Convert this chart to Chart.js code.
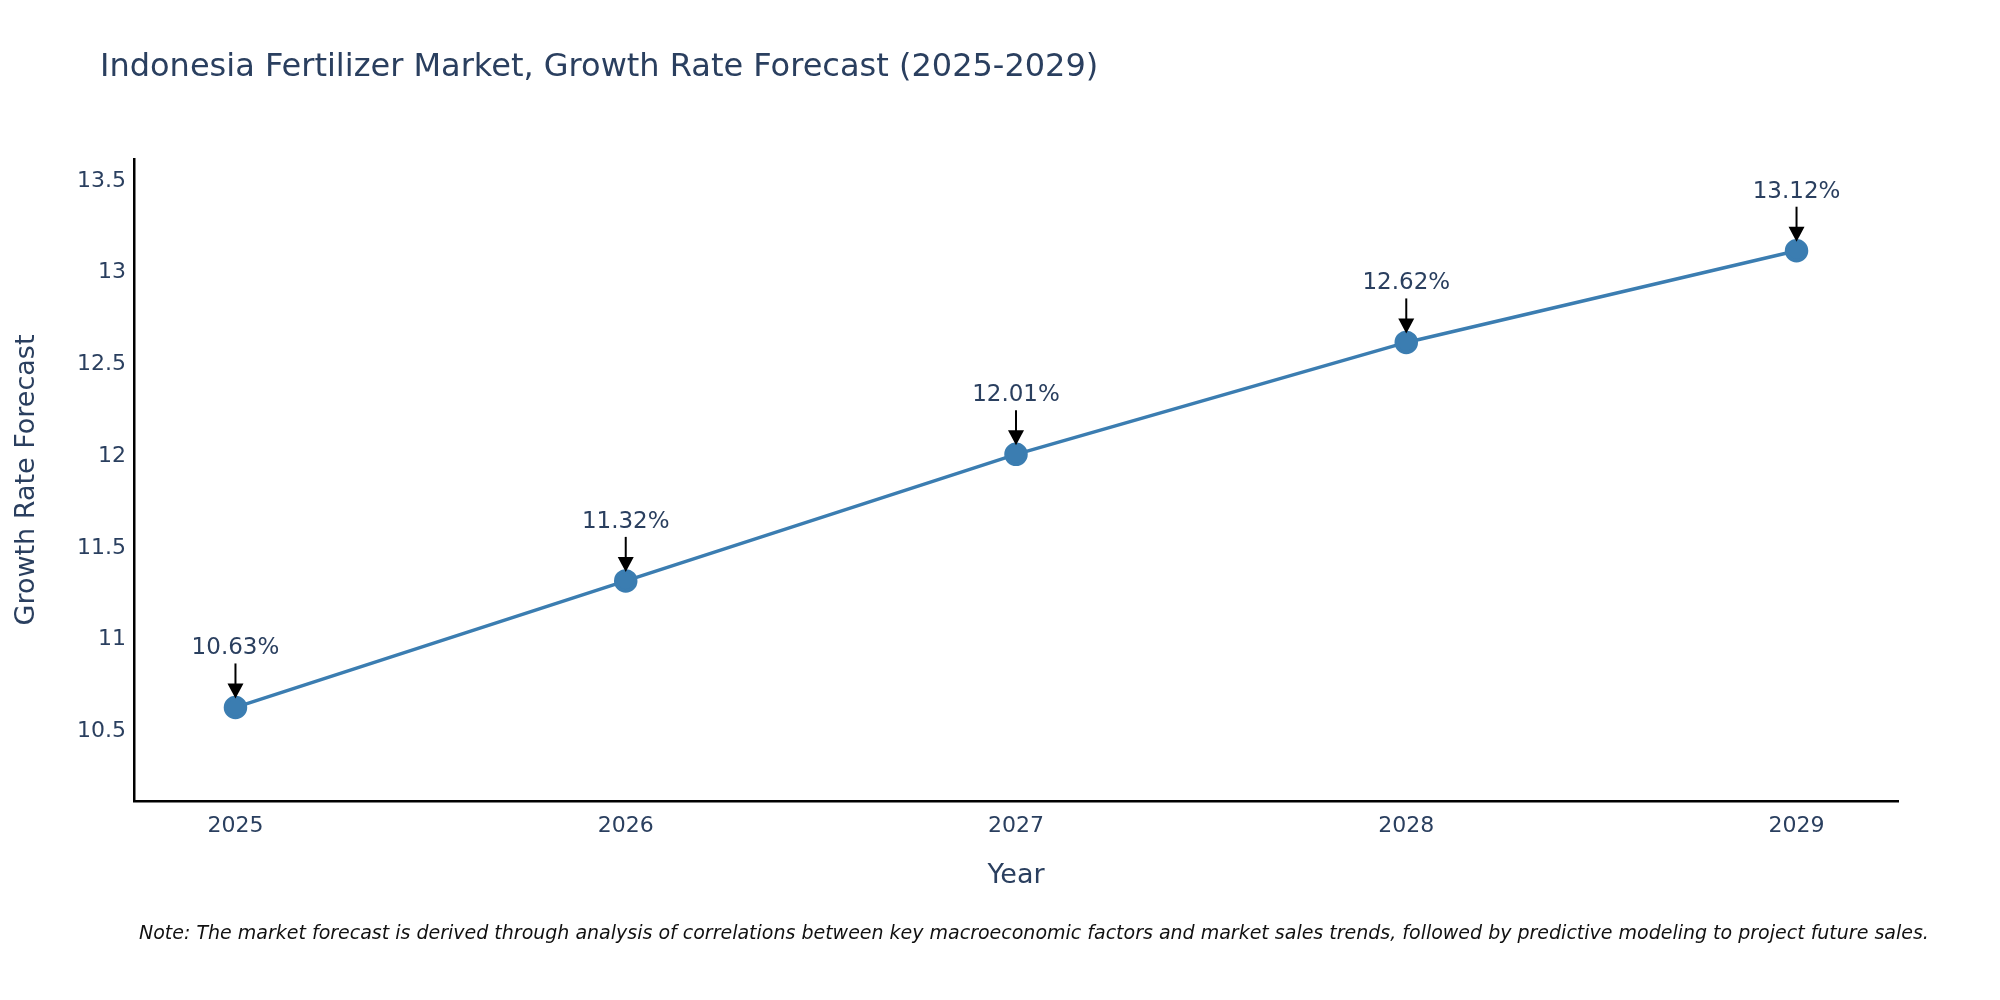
<!DOCTYPE html>
<html>
<head>
<script src="https://cdn.jsdelivr.net/npm/chart.js@4"></script>
<style>body{margin:0;background:#fff}canvas{display:block}</style>
</head>
<body>
<canvas id="c" width="2000" height="1000"></canvas>
<script>
const years = [2025, 2026, 2027, 2028, 2029]
const growth = [10.63, 11.32, 12.01, 12.62, 13.12]
const yTicks = [10.5, 11, 11.5, 12, 12.5, 13, 13.5]

const textColor = '#2a3f5f'
const font = '"DejaVu Sans", Verdana, sans-serif'

// labels, arrows, title, axis titles and note
const extras = {
	id: 'extras',
	afterDatasetsDraw(chart) {
		const ctx = chart.ctx
		const meta = chart.getDatasetMeta(0)
		ctx.save()
		meta.data.forEach((pt, i) => {
			const x = pt.x, y = pt.y
			ctx.strokeStyle = '#000'
			ctx.fillStyle = '#000'
			ctx.lineWidth = 2
			ctx.beginPath()
			ctx.moveTo(x, y - 44)
			ctx.lineTo(x, y - 22)
			ctx.stroke()
			ctx.beginPath()
			ctx.moveTo(x - 8, y - 24)
			ctx.lineTo(x + 8, y - 24)
			ctx.lineTo(x, y - 9)
			ctx.closePath()
			ctx.fill()
			ctx.fillStyle = textColor
			ctx.font = '23px ' + font
			ctx.textAlign = 'center'
			ctx.textBaseline = 'middle'
			ctx.fillText(growth[i].toFixed(2) + '%', x, y - 59)
		})
		ctx.fillStyle = textColor
		ctx.textAlign = 'left'
		ctx.textBaseline = 'middle'
		ctx.font = '32px ' + font
		ctx.fillText('Indonesia Fertilizer Market, Growth Rate Forecast (2025-2029)', 100, 68)
		ctx.font = '27px ' + font
		ctx.textAlign = 'center'
		ctx.fillText('Year', (chart.chartArea.left + chart.chartArea.right) / 2, 876)
		ctx.save()
		ctx.translate(27, (chart.chartArea.top + chart.chartArea.bottom) / 2)
		ctx.rotate(-Math.PI / 2)
		ctx.fillText('Growth Rate Forecast', 0, 0)
		ctx.restore()
		ctx.fillStyle = '#111'
		ctx.textAlign = 'left'
		ctx.font = 'italic 19px ' + font
		ctx.fillText('Note: The market forecast is derived through analysis of correlations between key macroeconomic factors and market sales trends, followed by predictive modeling to project future sales.', 139, 934)
		ctx.restore()
	}
}

new Chart(document.getElementById('c'), {
	type: 'line',
	data: {
		datasets: [{
			data: years.map((yr, i) => ({ x: yr, y: growth[i] })),
			borderColor: '#3b7db1',
			backgroundColor: '#3b7db1',
			borderWidth: 3.5,
			pointRadius: 10,
			pointHoverRadius: 10,
		}],
	},
	options: {
		responsive: false,
		animation: false,
		layout: { padding: { top: 159, right: 102, left: 0, bottom: 0 } },
		plugins: { legend: { display: false }, tooltip: { enabled: false } },
		scales: {
			x: {
				type: 'linear',
				min: 2024.74,
				max: 2029.26,
				afterFit: s => { s.height = 199 },
				afterBuildTicks: s => { s.ticks = years.map(v => ({ value: v })) },
				grid: { display: false, drawTicks: false },
				border: { color: '#000', width: 2.5 },
				ticks: { color: textColor, font: { size: 22, family: font }, padding: 12, callback: v => String(v) },
			},
			y: {
				min: 10.12,
				max: 13.62,
				afterFit: s => { s.width = 134 },
				afterBuildTicks: s => { s.ticks = yTicks.map(v => ({ value: v })) },
				grid: { display: false, drawTicks: false },
				border: { color: '#000', width: 2.5 },
				ticks: { color: textColor, font: { size: 22, family: font }, padding: 8, callback: v => String(v) },
			},
		},
	},
	plugins: [extras],
})
</script>
</body>
</html>
